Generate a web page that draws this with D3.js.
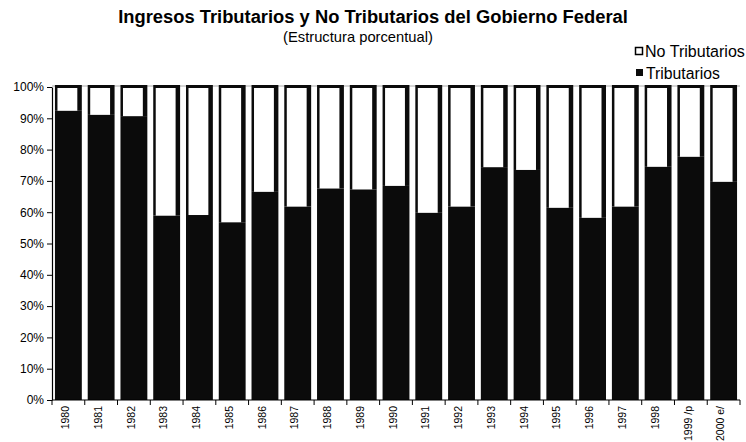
<!DOCTYPE html>
<html><head><meta charset="utf-8">
<script src="https://cdn.jsdelivr.net/npm/d3@7"></script>
<style>body{margin:0;background:#fff}svg{display:block}text{font-family:"Liberation Sans",Arial,sans-serif}</style>
</head><body><svg id="c" width="746" height="442"></svg>
<script>
const categories = ["1980","1981","1982","1983","1984","1985","1986","1987","1988","1989","1990","1991","1992","1993","1994","1995","1996","1997","1998","1999 /p","2000 e/"];
const tributarios = [92.4,91.1,90.7,58.9,59.1,56.8,66.5,61.8,67.6,67.3,68.4,59.8,61.8,74.4,73.5,61.4,58.2,61.8,74.5,77.7,69.7];
const noTributarios = tributarios.map(v => 100 - v);
const yTicks = [0,10,20,30,40,50,60,70,80,90,100];
const seriesNames = ["No Tributarios","Tributarios"];

const svg = d3.select("#c");
const x = d3.scaleBand().domain(categories).range([52,740]).paddingInner(0.18).paddingOuter(0.09);
const y = d3.scaleLinear().domain([0,100]).range([400,87]);

function fitText(sel, targetW, base){
  sel.attr("font-size", base);
  const w = sel.node().getComputedTextLength();
  sel.attr("font-size", base * targetW / w);
}

// title
const t1 = svg.append("text").attr("x",373).attr("y",23).attr("text-anchor","middle").attr("font-weight","bold")
  .text("Ingresos Tributarios y No Tributarios del Gobierno Federal");
fitText(t1, 510, 15);
const t2 = svg.append("text").attr("x",358).attr("y",42).attr("text-anchor","middle")
  .text("(Estructura porcentual)");
fitText(t2, 150, 13);

// top frame line
svg.append("line").attr("x1",52).attr("x2",740).attr("y1",y(100)-1).attr("y2",y(100)-1).attr("stroke","#aaa").attr("stroke-width",1);

// bars
const g = svg.append("g");
categories.forEach((c,i) => {
  const bx = x(c), bw = x.bandwidth();
  g.append("rect").attr("x",bx).attr("width",bw).attr("y",y(tributarios[i])).attr("height",y(0)-y(tributarios[i]))
    .attr("fill","#0b0b0b");
  const top = y(tributarios[i] + noTributarios[i]) - 2;
  g.append("rect").attr("x",bx).attr("width",bw).attr("y",top).attr("height",y(tributarios[i])-top)
    .attr("fill","#0b0b0b");
  g.append("rect").attr("x",bx+2.5).attr("width",bw-7).attr("y",top+3).attr("height",Math.max(0,y(tributarios[i])-top-3))
    .attr("fill","#fff");
});

// y axis
const ya = svg.append("g").attr("transform","translate(52,0)")
  .call(d3.axisLeft(y).tickValues(yTicks).tickFormat(d => d + "%").tickSize(5).tickSizeOuter(0));
ya.select(".domain").attr("stroke","#000").attr("stroke-width",1.2);
ya.selectAll(".tick line").attr("stroke","#000");
ya.selectAll(".tick text").attr("font-size",12).attr("fill","#000").attr("x",-8).attr("font-family","Liberation Sans, Arial, sans-serif");

// x axis
const xa = svg.append("g").attr("transform","translate(0,400)");
xa.append("line").attr("x1",52).attr("x2",740).attr("stroke","#000").attr("stroke-width",1.2);
const step = x.step();
d3.range(categories.length + 1).forEach(k => {
  const tx = x(categories[0]) - x.paddingInner()*step/2 + k*step;
  xa.append("line").attr("x1",tx).attr("x2",tx).attr("y1",0).attr("y2",5).attr("stroke","#000");
});
categories.forEach(c => {
  const cx = x(c) + x.bandwidth()/2 - 3;
  xa.append("text").attr("transform",`translate(${cx},6) rotate(-90)`).attr("text-anchor","end")
    .attr("dy","0.35em").attr("font-size",10.5).attr("fill","#000").text(c);
});

// legend
const lg = svg.append("g");
lg.append("rect").attr("x",635.5).attr("y",47.5).attr("width",7).attr("height",7).attr("fill","#fff").attr("stroke","#000").attr("stroke-width",1.5);
const l1 = lg.append("text").attr("x",645).attr("y",51).attr("dy","0.35em").text(seriesNames[0]);
fitText(l1, 100, 13);
lg.append("rect").attr("x",636).attr("y",69).attr("width",7).attr("height",7).attr("fill","#0b0b0b");
const l2 = lg.append("text").attr("x",646).attr("y",73).attr("dy","0.35em").text(seriesNames[1]);
fitText(l2, 74, 13);
</script></body></html>
